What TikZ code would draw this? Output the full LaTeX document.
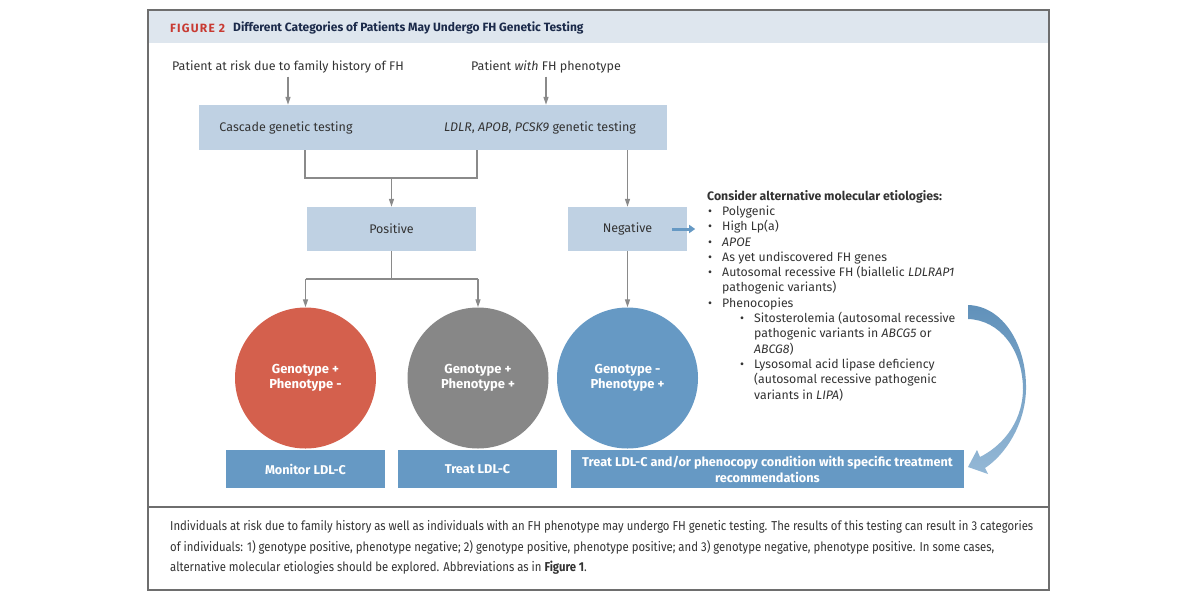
\documentclass[tikz,border=0pt]{standalone}
\usepackage{fontspec}
\setmainfont{Fira Sans}
\newfontfamily\capfont{Fira Sans}[FakeStretch=0.88]
\usepackage{tikz}
\usetikzlibrary{arrows.meta,calc}

\definecolor{paleblue}{HTML}{BFD1E3}
\definecolor{midblue}{HTML}{6699C4}
\definecolor{tomato}{HTML}{D4604D}
\definecolor{stone}{HTML}{878787}
\definecolor{band}{HTML}{DEE6EE}
\definecolor{navy}{HTML}{1B2A4A}
\definecolor{figred}{HTML}{C83A32}
\definecolor{ink}{HTML}{333333}
\definecolor{wire}{HTML}{8A8A8A}
\definecolor{frame}{HTML}{6E6E6E}

\newcommand{\bl}{\makebox[14pt][l]{\textbullet}}

\begin{document}
\begin{tikzpicture}
      [x = 1pt, y = -1pt,
      every node/.style = {font = \fontsize{12.5}{15}\selectfont, text = ink},
      conn/.style = {draw = wire, line width = 1.3pt,
         -{Triangle[width = 5pt, length = 8pt]}},
      wire/.style = {draw = wire, line width = 1.3pt},
      pale/.style = {
         fill = paleblue,
         inner sep = 0pt
      },
      deep/.style = {
         fill = midblue,
         inner sep = 0pt,
         minimum height = 38pt,
         text = white,
         font = \fontsize{12.7}{16}\selectfont\bfseries
      },
      disc/.style = {
         circle,
         inner sep = 0pt,
         minimum size = 141pt,
         align = center,
         text = white,
         font = \fontsize{13}{15.5}\selectfont\bfseries
      }]

      \useasboundingbox (0, 0) rectangle (1200, 600);

      % frame and title band
      \fill[band] (148, 10) rectangle (1049, 43);
      \draw[frame, line width = 1.2pt] (148, 10) rectangle (1049, 590);
      \draw[frame, line width = 1.2pt] (148, 507) -- (1049, 507);
      \node[anchor = west, text = figred, inner sep = 0pt,
         font = \fontsize{12}{14}\selectfont\bfseries\addfontfeature{LetterSpace = 10}]
         (fignum) at (170, 28) {FIGURE 2};
      \node[anchor = west, text = navy, inner sep = 0pt,
         font = \fontsize{12}{14}\selectfont\bfseries]
         (title) at (233, 28) {Different Categories of Patients May Undergo FH Genetic Testing};

      % entry points
      \node (risk) at (288, 67) {Patient at risk due to family history of FH};
      \node (withfh) at (546, 67) {Patient \textit{with} FH phenotype};

      \node[pale, minimum width = 468pt, minimum height = 45pt] (test) at (433, 127.5) {};
      \node (cascade) at (286, 127.5) {Cascade genetic testing};
      \node (ldlr) at (540, 127.5) {\textit{LDLR}, \textit{APOB}, \textit{PCSK9} genetic testing};

      \node[pale, minimum width = 169pt, minimum height = 44pt] (pos) at (391.5, 229) {Positive};
      \node[pale, minimum width = 119pt, minimum height = 44pt] (neg) at (627.5, 229) {Negative};

      \node[disc, fill = tomato] (gp) at (305.5, 378) {Genotype +\\Phenotype -};
      \node[disc, fill = stone] (gpp) at (478, 378) {Genotype +\\Phenotype +};
      \node[disc, fill = midblue] (gn) at (627.5, 378) {Genotype -\\Phenotype +};

      \node[deep, minimum width = 159pt] (monitor) at (305.5, 469) {Monitor LDL-C};
      \node[deep, minimum width = 159pt] (treat) at (477.5, 469) {Treat LDL-C};
      \node[deep, minimum width = 393pt, align = center] (treatmore) at (767.5, 469)
         {Treat LDL-C and/or phenocopy condition with specific treatment\\recommendations};

      % connectors
      \coordinate (jl) at (305, 178);
      \coordinate (jr) at (477, 178);
      \coordinate (jm) at (391.5, 178);
      \coordinate (kl) at (305.5, 279);
      \coordinate (kr) at (478, 279);

      \draw[conn] (risk.south) -- (risk.south |- test.north);
      \draw[conn] (withfh.south) -- (withfh.south |- test.north);
      \draw[wire] (test.south -| jl) -- (jl) -- (jr) -- (test.south -| jr);
      \draw[conn] (jm) -- (pos.north);
      \draw[conn] (test.south -| neg.north) -- (neg.north);
      \draw[wire] (pos.south) -- (pos.south |- kl);
      \draw[conn] (kl) -| (gp.north);
      \draw[conn] (kr) -| (gpp.north);
      \draw[wire] (kl) -- (kr);
      \draw[conn] (neg.south) -- (gn.north);

      \draw[draw = midblue, line width = 3pt, -{Triangle[width = 8pt, length = 6pt]}]
         (neg.east) ++(-15, 0) coordinate (nx) -- ++(23, 0);

      % alternative etiologies
      \node[anchor = north west, inner sep = 0pt, align = left,
         font = \fontsize{12.3}{15.3}\selectfont] (etio) at (707, 190)
         {{\bfseries Consider alternative molecular etiologies:}\\
         \hspace*{1pt}\bl Polygenic\\
         \hspace*{1pt}\bl High Lp(a)\\
         \hspace*{1pt}\bl \textit{APOE}\\
         \hspace*{1pt}\bl As yet undiscovered FH genes\\
         \hspace*{1pt}\bl Autosomal recessive FH (biallelic \textit{LDLRAP1}\\
         \hspace*{15pt}pathogenic variants)\\
         \hspace*{1pt}\bl Phenocopies\\
         \hspace*{33pt}\bl Sitosterolemia (autosomal recessive\\
         \hspace*{47pt}pathogenic variants in \textit{ABCG5} or\\
         \hspace*{47pt}\textit{ABCG8})\\
         \hspace*{33pt}\bl Lysosomal acid lipase deficiency\\
         \hspace*{47pt}(autosomal recessive pathogenic\\
         \hspace*{47pt}variants in \textit{LIPA})};

      % curved arrow back to treatment
      \shade[top color = midblue!95!black, bottom color = midblue!70!white]
         (968, 305) .. controls (1003, 306) and (1027, 345) .. (1026, 390)
         .. controls (1025, 425) and (1005, 455) .. (985, 468)
         -- (988, 474) -- (968, 467) -- (977, 450) -- (980, 457)
         .. controls (1000, 447) and (1022, 425) .. (1023, 390)
         .. controls (1023, 350) and (1000, 320) .. (968, 319) -- cycle;

      % caption
      \node[anchor = north west, inner sep = 0pt, align = left,
         font = \capfont\fontsize{12.9}{20.5}\selectfont] (caption) at (170, 520.5)
         {Individuals at risk due to family history as well as individuals with an FH phenotype may undergo FH genetic testing. The results of this testing can result in 3 categories\\
         of individuals: 1) genotype positive, phenotype negative; 2) genotype positive, phenotype positive; and 3) genotype negative, phenotype positive. In some cases,\\
         alternative molecular etiologies should be explored. Abbreviations as in \textbf{Figure 1}.};

   \end{tikzpicture}
\end{document}
